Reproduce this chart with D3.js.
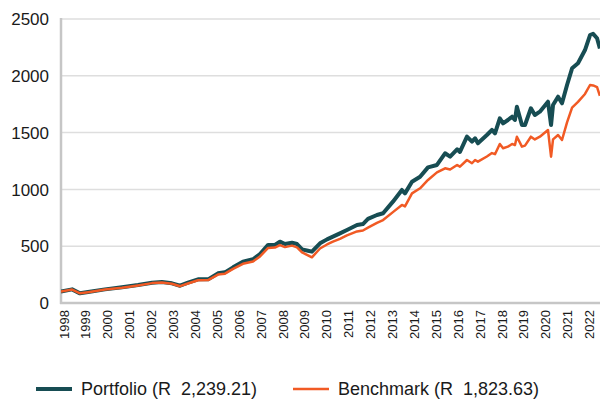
<!DOCTYPE html>
<html>
<head>
<meta charset="utf-8">
<script src="https://cdn.jsdelivr.net/npm/d3@7"></script>
<style>
  html, body { margin: 0; padding: 0; background: #ffffff; }
  svg { display: block; font-family: "Liberation Sans", Arial, sans-serif; }
</style>
</head>
<body>
<svg id="chart" width="600" height="408"></svg>
<script>
// ---- data ----
const dates = [1997.86,1998.37,1998.73,1999.10,1999.87,2000.65,2001.38,2002.02,2002.47,2002.93,
  2003.30,2003.66,2004.12,2004.58,2005.03,2005.35,2005.72,2006.17,2006.63,2006.95,
  2007.32,2007.63,2007.86,2008.09,2008.41,2008.64,2008.87,2009.14,2009.32,2009.69,
  2010.01,2010.28,2010.60,2010.92,2011.38,2011.65,2011.88,2012.29,2012.57,2013.02,
  2013.43,2013.57,2013.89,2014.26,2014.62,2015.03,2015.40,2015.63,2015.95,2016.08,
  2016.40,2016.63,2016.77,2016.90,2017.31,2017.54,2017.68,2017.90,2018.05,2018.27,
  2018.46,2018.59,2018.68,2018.91,2019.05,2019.32,2019.50,2019.73,2020.10,2020.24,
  2020.33,2020.56,2020.74,2020.97,2021.20,2021.47,2021.79,2022.02,2022.16,2022.34,2022.47];
const portfolio = [100,120,85,97,120,138,158,179,185,173,
  152,179,208,208,261,270,314,364,385,431,
  511,511,540,519,531,519,472,460,452,525,
  560,584,613,643,687,695,740,775,790,892,
  995,965,1068,1112,1194,1215,1318,1288,1353,1330,
  1464,1420,1450,1406,1479,1523,1494,1626,1582,1611,
  1640,1611,1728,1567,1567,1714,1655,1684,1772,1567,
  1743,1816,1758,1919,2066,2110,2227,2359,2370,2330,2240];
const benchmark = [100,118,85,95,118,135,155,175,180,170,
  148,172,200,202,250,258,300,345,365,410,
  485,488,510,492,505,490,445,420,402,480,
  515,540,565,595,630,638,663,705,730,800,
  863,850,965,1010,1083,1150,1186,1175,1215,1200,
  1259,1230,1259,1244,1290,1320,1310,1400,1362,1376,
  1400,1390,1464,1376,1385,1464,1440,1464,1523,1288,
  1440,1479,1435,1590,1720,1770,1840,1919,1915,1900,1823];
const yearLabels = d3.range(1998, 2023);
const yTicks = [0, 500, 1000, 1500, 2000, 2500];
const seriesNames = ["Portfolio (R  2,239.21)", "Benchmark (R  1,823.63)"];
const seriesColors = ["#174d53", "#f15a24"];

// ---- drawing ----
(function () {
const svg = d3.select("#chart");
const pL = 61, pR = 600, pT = 19, pB = 303;

const x = d3.scaleLinear().domain([1998, 2022]).range([64, 64 + 24 * 21.9]);
const y = d3.scaleLinear().domain([0, 2500]).range([pB, pT]);

svg.append("defs").append("clipPath").attr("id", "clip")
  .append("rect").attr("x", pL).attr("y", 0).attr("width", pR - pL).attr("height", pB + 5);

// gridlines
svg.append("g").selectAll("line").data(yTicks.filter(d => d > 0)).join("line")
  .attr("x1", pL).attr("x2", pR)
  .attr("y1", d => y(d)).attr("y2", d => y(d))
  .attr("stroke", "#dedede").attr("stroke-width", 1.5);

// y labels
svg.append("g").selectAll("text").data(yTicks).join("text")
  .attr("x", 49).attr("y", d => y(d)).attr("dy", "0.36em")
  .attr("text-anchor", "end")
  .attr("font-size", 17).attr("fill", "#1a1a1a")
  .text(d => d);

// x labels
svg.append("g").selectAll("text").data(yearLabels).join("text")
  .attr("transform", d => `translate(${x(d)},310) rotate(-90)`)
  .attr("dy", "0.35em")
  .attr("text-anchor", "end")
  .attr("font-size", 13).attr("fill", "#1a1a1a")
  .text(d => d);

// axes lines
svg.append("line").attr("x1", pL).attr("x2", pL).attr("y1", pT - 1).attr("y2", pB + 1)
  .attr("stroke", "#c6c6c6").attr("stroke-width", 2.5);
svg.append("line").attr("x1", pL - 1).attr("x2", pR).attr("y1", pB).attr("y2", pB)
  .attr("stroke", "#c6c6c6").attr("stroke-width", 2.5);

// lines
const line = d3.line().x(d => x(d[0])).y(d => y(d[1]));
const g = svg.append("g").attr("clip-path", "url(#clip)");
g.append("path").datum(dates.map((d, i) => [d, portfolio[i]]))
  .attr("d", line).attr("fill", "none")
  .attr("stroke", seriesColors[0]).attr("stroke-width", 4).attr("stroke-linejoin", "round");
g.append("path").datum(dates.map((d, i) => [d, benchmark[i]]))
  .attr("d", line).attr("fill", "none")
  .attr("stroke", seriesColors[1]).attr("stroke-width", 2.5).attr("stroke-linejoin", "round");

// legend
const legendPos = [{sx: 36, tx: 81}, {sx: 293, tx: 338}];
const lg = svg.append("g");
seriesNames.forEach((name, i) => {
  lg.append("line").attr("x1", legendPos[i].sx).attr("x2", legendPos[i].sx + 36)
    .attr("y1", 389).attr("y2", 389)
    .attr("stroke", seriesColors[i]).attr("stroke-width", i === 0 ? 4 : 2.5);
  lg.append("text").attr("x", legendPos[i].tx).attr("y", 389).attr("dy", "0.36em")
    .attr("font-size", 18).attr("fill", "#1a1a1a")
    .style("white-space", "pre").attr("xml:space", "preserve")
    .text(name);
});
})();
</script>
</body>
</html>
